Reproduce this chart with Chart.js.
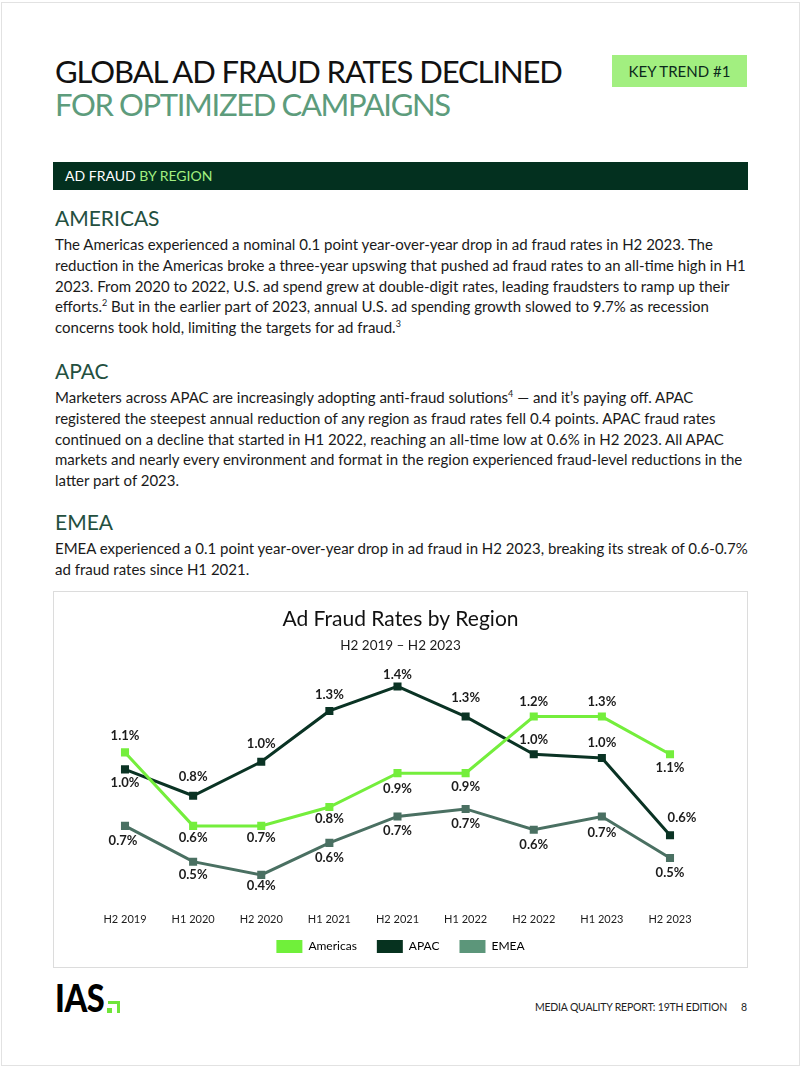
<!DOCTYPE html>
<html>
<head>
<meta charset="utf-8">
<script src="https://cdn.jsdelivr.net/npm/chart.js@4.4.1/dist/chart.umd.min.js"></script>
<style>
  html, body { margin: 0; padding: 0; background: #fff; }
  body { width: 802px; height: 1068px; position: relative; overflow: hidden; font-family: Lato, "Noto Sans", sans-serif; color: #1a1a1a; }
  .frame { position: absolute; left: 1px; top: 2px; width: 799px; height: 1064px; border: 1px solid #e2e2e2; box-sizing: border-box; }
  .abs { position: absolute; white-space: nowrap; }
  .title { left: 55px; font-size: 31px; line-height: 33px; letter-spacing: -1.1px; }
  .t1 { top: 55px; color: #111; }
  .t2 { top: 88px; color: #5d9c7c; letter-spacing: -1.35px; }
  .key { left: 612px; top: 55px; width: 135px; height: 32px; background: #a2ef80; color: #0c2a1c; font-size: 15px; display: flex; align-items: center; justify-content: center; }
  .bar { left: 53px; top: 162px; width: 695px; height: 28px; background: #03301f; color: #fff; font-size: 14px; line-height: 28px; padding-left: 12px; box-sizing: border-box; }
  .bar span { color: #a2ef80; }
  .h { left: 55px; font-size: 21px; line-height: 24px; color: #24503f; }
  .p { left: 55px; font-size: 15px; line-height: 20.8px; color: #1a1a1a; }
  sup { font-size: 9px; line-height: 0; vertical-align: 6px; }
  .box { position: absolute; left: 53px; top: 591px; width: 695px; height: 377px; border: 1px solid #dcdcdc; box-sizing: border-box; pointer-events: none; z-index: 2; }
  .cwrap { position: absolute; left: 54px; top: 592px; width: 693px; height: 382px; z-index: 1; }
  .logo { left: 55px; top: 978px; font-size: 37px; font-weight: 900; color: #000; line-height: 40px; transform: scaleX(0.88); transform-origin: left top; letter-spacing: -0.5px; }
  .g { position: absolute; background: #6fe53a; }
  .foot { font-size: 10.5px; color: #222; top: 1000px; line-height: 14px; letter-spacing: -0.2px; }
</style>
</head>
<body>
<div class="frame"></div>
<div class="abs title t1">GLOBAL AD FRAUD RATES DECLINED</div>
<div class="abs title t2">FOR OPTIMIZED CAMPAIGNS</div>
<div class="abs key">KEY TREND #1</div>
<div class="abs bar">AD FRAUD <span>BY REGION</span></div>

<div class="abs h" style="top:206px">AMERICAS</div>
<div class="abs p" style="top:234px">The Americas experienced a nominal 0.1 point year-over-year drop in ad fraud rates in H2 2023. The<br>reduction in the Americas broke a three-year upswing that pushed ad fraud rates to an all-time high in H1<br>2023. From 2020 to 2022, U.S. ad spend grew at double-digit rates, leading fraudsters to ramp up their<br>efforts.<sup>2</sup> But in the earlier part of 2023, annual U.S. ad spending growth slowed to 9.7% as recession<br>concerns took hold, limiting the targets for ad fraud.<sup>3</sup></div>

<div class="abs h" style="top:359px">APAC</div>
<div class="abs p" style="top:387px">Marketers across APAC are increasingly adopting anti-fraud solutions<sup>4</sup> — and it’s paying off. APAC<br>registered the steepest annual reduction of any region as fraud rates fell 0.4 points. APAC fraud rates<br>continued on a decline that started in H1 2022, reaching an all-time low at 0.6% in H2 2023. All APAC<br>markets and nearly every environment and format in the region experienced fraud-level reductions in the<br>latter part of 2023.</div>

<div class="abs h" style="top:510px">EMEA</div>
<div class="abs p" style="top:538px">EMEA experienced a 0.1 point year-over-year drop in ad fraud in H2 2023, breaking its streak of 0.6-0.7%<br>ad fraud rates since H1 2021.</div>

<div class="box"></div>
<div class="cwrap"><canvas id="c" width="693" height="382"></canvas></div>

<div class="abs logo">IAS</div>
<div class="g" style="left:108px;top:1001px;width:12px;height:3px"></div>
<div class="g" style="left:117px;top:1001px;width:3px;height:12px"></div>
<div class="g" style="left:107px;top:1008px;width:5px;height:5px"></div>
<div class="abs foot" style="right:75px">MEDIA QUALITY REPORT: 19TH EDITION</div>
<div class="abs foot" style="left:741px">8</div>

<script>
// ---- data ----
const categories = ['H2 2019', 'H1 2020', 'H2 2020', 'H1 2021', 'H2 2021', 'H1 2022', 'H2 2022', 'H1 2023', 'H2 2023'];
const seriesNames = ['Americas', 'APAC', 'EMEA'];
const americas = [1.05, 0.66, 0.66, 0.76, 0.94, 0.94, 1.24, 1.24, 1.04];
const apac     = [0.96, 0.82, 1.00, 1.27, 1.40, 1.24, 1.04, 1.02, 0.61];
const emea     = [0.66, 0.47, 0.40, 0.57, 0.71, 0.75, 0.64, 0.71, 0.49];
const americasLabels = ['1.1%', '0.6%', '0.7%', '0.8%', '0.9%', '0.9%', '1.2%', '1.3%', '1.1%'];
const apacLabels     = ['1.0%', '0.8%', '1.0%', '1.3%', '1.4%', '1.3%', '1.0%', '1.0%', '0.6%'];
const emeaLabels     = ['0.7%', '0.5%', '0.4%', '0.6%', '0.7%', '0.7%', '0.6%', '0.7%', '0.5%'];

// ---- styles ----
const lineColors = ['#74ee3c', '#0a3324', '#4a7062'];
const legendColors = ['#70f03a', '#06321f', '#5c967a'];
const labelPlacement = [
  { dx: [0, 0, 0, 0, 0, 0, 0, 0, 0], dy: [-17, 12, 12, 12, 16, 14, -15, -15, 14] },
  { dx: [0, 0, 0, 0, 0, 0, 0, 0, 12], dy: [13, -19, -18, -16, -12, -19, -14, -15, -17] },
  { dx: [-2, 0, 0, 0, 0, 0, 0, 0, 0], dy: [15, 13, 11, 15, 14, 15, 15, 16, 15] }
];

const valueLabels = {
  id: 'valueLabels',
  afterDatasetsDraw(chart, args, opts) {
    const ctx = chart.ctx;
    ctx.save();
    ctx.font = 'bold 13px Lato';
    ctx.fillStyle = '#1c1c1c';
    ctx.textAlign = 'center';
    ctx.textBaseline = 'middle';
    chart.data.datasets.forEach((ds, i) => {
      const meta = chart.getDatasetMeta(i);
      meta.data.forEach((pt, j) => {
        const pl = opts.placement[i];
        ctx.fillText(ds.valueText[j], pt.x + pl.dx[j], pt.y + pl.dy[j]);
      });
    });
    ctx.restore();
  }
};

// moves the legend box up, closer to the axis labels
const legendNudge = {
  id: 'legendNudge',
  afterLayout(chart, args, opts) {
    const lg = chart.legend;
    if (lg) { lg.top += opts.shift; lg.bottom += opts.shift; }
  }
};

const allSeries = [americas, apac, emea];
const allLabels = [americasLabels, apacLabels, emeaLabels];

new Chart(document.getElementById('c'), {
  type: 'line',
  data: {
    labels: categories,
    datasets: seriesNames.map((name, i) => ({
      label: name,
      data: allSeries[i],
      valueText: allLabels[i],
      borderColor: lineColors[i],
      backgroundColor: lineColors[i],
      borderWidth: 3,
      pointStyle: 'rect',
      pointRadius: 5.7,
      pointBorderWidth: 0,
      pointBackgroundColor: lineColors[i],
      tension: 0,
      fill: false,
      yAxisID: 'y'
    }))
  },
  options: {
    responsive: false,
    animation: false,
    devicePixelRatio: 1,
    layout: { padding: { top: 5, bottom: 0, left: 0, right: 0 } },
    plugins: {
      title: {
        display: true,
        text: 'Ad Fraud Rates by Region',
        color: '#111',
        font: { family: 'Lato', size: 21, weight: 'normal' },
        padding: { top: 9.5, bottom: 0 }
      },
      subtitle: {
        display: true,
        text: 'H2 2019 – H2 2023',
        color: '#1c1c1c',
        font: { family: 'Lato', size: 13.5, weight: 'normal' },
        padding: { top: 6.2, bottom: 13.5 }
      },
      legend: {
        position: 'bottom',
        labels: {
          boxWidth: 26,
          boxHeight: 13,
          padding: 20,
          color: '#222',
          font: { family: 'Lato', size: 12 },
          generateLabels: (chart) => chart.data.datasets.map((ds, i) => ({
            text: ds.label,
            fillStyle: legendColors[i],
            strokeStyle: legendColors[i],
            lineWidth: 0,
            hidden: false,
            datasetIndex: i
          }))
        }
      },
      legendNudge: { shift: -11 },
      tooltip: { enabled: false },
      valueLabels: { placement: labelPlacement }
    },
    scales: {
      x: {
        grid: { display: false, drawTicks: false },
        border: { display: false },
        ticks: {
          color: '#1c1c1c',
          font: { family: 'Lato', size: 11, lineHeight: 0.2 },
          padding: 10,
          maxRotation: 0,
          autoSkip: false
        }
      },
      y: {
        min: 0.22,
        max: 1.5,
        grid: { display: false, drawTicks: false },
        border: { display: false },
        ticks: { display: false },
        afterFit: (s) => { s.width = 71; }
      },
      y2: {
        position: 'right',
        min: 0,
        max: 1,
        grid: { display: false, drawTicks: false },
        border: { display: false },
        ticks: { display: false },
        afterFit: (s) => { s.width = 77; }
      }
    }
  },
  plugins: [valueLabels, legendNudge]
});
</script>
</body>
</html>
